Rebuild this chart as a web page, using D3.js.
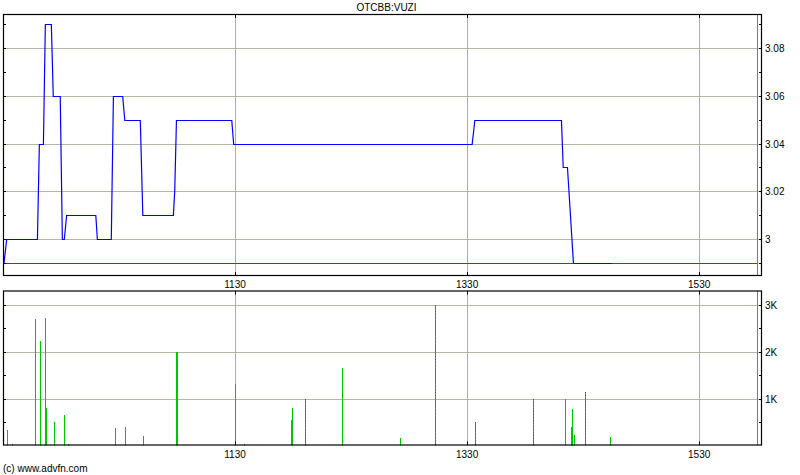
<!DOCTYPE html>
<html>
<head>
<meta charset="utf-8">
<script src="https://cdn.jsdelivr.net/npm/d3@7"></script>
<style>
  html, body { margin: 0; padding: 0; background: #fff; }
  svg { display: block; }
  text { font-family: "Liberation Sans", Arial, sans-serif; font-size: 10px; fill: #000; }
</style>
</head>
<body>
<svg id="chart" width="800" height="475"></svg>
<script>
// ---- data (minutes after 09:30) ----
const title = "OTCBB:VUZI";
const credit = "(c) www.advfn.com";
const priceTimes  = [0.5, 1.9, 17.8, 18.8, 20.9, 21.9, 25, 26, 29.6, 30.7, 31.7, 32.9, 48, 48.8, 56, 57.1, 61.9, 63, 71, 72.3, 88.1, 88.8, 89.7, 118.3, 119.3, 242.6, 244, 288.8, 289.7, 291.9, 295, 314.9];
const priceValues = [2.99, 3.00, 3.00, 3.04, 3.04, 3.09, 3.09, 3.06, 3.06, 3.00, 3.00, 3.01, 3.01, 3.00, 3.00, 3.06, 3.06, 3.05, 3.05, 3.01, 3.01, 3.02, 3.05, 3.05, 3.04, 3.04, 3.05, 3.05, 3.03, 3.03, 2.99, 2.99];
const prevClose = 2.99;
const closeMinute = 390; // 16:00
const volumeTimes  = [2.2, 4.5, 16.4, 19.3, 21.6, 22.4, 26.5, 31.4, 33.5, 57.8, 63.3, 72.6, 89.6, 90.1, 119.9, 124.5, 148.8, 149.7, 156.4, 175.5, 205.5, 223.6, 244.3, 274.3, 290.4, 293.5, 294.5, 295.5, 301.2, 313.7];
const volumeValues = [330, 40, 2690, 2220, 2710, 790, 500, 660, 40, 370, 400, 200, 2000, 2000, 1300, 40, 540, 790, 1000, 1660, 150, 3000, 500, 1000, 1000, 390, 770, 220, 1130, 180];
const volumeDark   = [0, 0, 0, 0, 0, 0, 0, 0, 0, 0, 0, 0, 0, 0, 0, 0, 0, 0, 1, 0, 0, 1, 1, 1, 0, 0, 0, 0, 1, 0];
const xTickMinutes = [120, 240, 360];
const xTickLabels  = ["1130", "1330", "1530"];
const priceTicks = [3.00, 3.02, 3.04, 3.06, 3.08];
const priceTickLabels = ["3", "3.02", "3.04", "3.06", "3.08"];
const priceMinorTicks = [2.99, 3.01, 3.03, 3.05, 3.07, 3.09];
const volumeTicks = [1000, 2000, 3000];
const volumeTickLabels = ["1K", "2K", "3K"];
const volumeMinorTicks = [500, 1500, 2500];

// ---- layout ----
const svg = d3.select("#chart");
const L = 3, R = 762;
const pTop = 14, pBot = 276;
const vTop = 290.5, vBot = 445.5;

const x = d3.scaleLinear().domain([0, 392.5]).range([L, R]);
const yP = d3.scaleLinear().domain([2.98449, 3.0943]).range([pBot, pTop]);
const yV = d3.scaleLinear().domain([0, 3300]).range([vBot, vTop]);

const gridColor = "#b6b8a6";

function panel(top, bot, y, majors) {
  const g = svg.append("g");
  g.selectAll(".hg").data(majors).join("line")
    .attr("x1", L).attr("x2", R)
    .attr("y1", d => Math.round(y(d)) + 0.5).attr("y2", d => Math.round(y(d)) + 0.5)
    .attr("stroke", gridColor).attr("stroke-width", 1);
  g.selectAll(".vg").data(xTickMinutes).join("line")
    .attr("x1", d => Math.round(x(d)) + 0.5).attr("x2", d => Math.round(x(d)) + 0.5)
    .attr("y1", top).attr("y2", bot)
    .attr("stroke", "#a9acac").attr("stroke-width", 1);
  g.append("line")
    .attr("x1", Math.round(x(closeMinute)) + 0.5).attr("x2", Math.round(x(closeMinute)) + 0.5)
    .attr("y1", top).attr("y2", bot)
    .attr("stroke", "#7a7a7a").attr("stroke-width", 1);
  return g;
}

function frame(top, bot, y, majors, labels, minors) {
  const g = svg.append("g");
  g.append("rect").attr("x", L + 0.5).attr("y", top + 0.5)
    .attr("width", R - L - 1).attr("height", bot - top - 1)
    .attr("fill", "none").attr("stroke", "#000").attr("stroke-width", 1.2);
  const all = majors.concat(minors);
  g.selectAll(".tl").data(all).join("line")
    .attr("x1", L).attr("x2", L + 3)
    .attr("y1", d => Math.round(y(d)) + 0.5).attr("y2", d => Math.round(y(d)) + 0.5)
    .attr("stroke", "#000");
  g.selectAll(".tr").data(all).join("line")
    .attr("x1", R - 3).attr("x2", R)
    .attr("y1", d => Math.round(y(d)) + 0.5).attr("y2", d => Math.round(y(d)) + 0.5)
    .attr("stroke", "#000");
  g.selectAll(".xb").data(xTickMinutes).join("line")
    .attr("x1", d => Math.round(x(d)) + 0.5).attr("x2", d => Math.round(x(d)) + 0.5)
    .attr("y1", bot - 4).attr("y2", bot)
    .attr("stroke", "#000");
  g.selectAll(".xt").data(xTickMinutes).join("line")
    .attr("x1", d => Math.round(x(d)) + 0.5).attr("x2", d => Math.round(x(d)) + 0.5)
    .attr("y1", top).attr("y2", top + 4)
    .attr("stroke", "#000");
  g.selectAll(".yl").data(majors).join("text")
    .attr("x", R + 3).attr("y", d => y(d) + 4)
    .text((d, i) => labels[i]);
  return g;
}

// Price panel
panel(pTop, pBot, yP, priceTicks);
svg.append("line")
  .attr("x1", x(0)).attr("x2", x(closeMinute))
  .attr("y1", Math.round(yP(prevClose)) + 0.5).attr("y2", Math.round(yP(prevClose)) + 0.5)
  .attr("stroke", "#ee0000").attr("stroke-width", 1);
const pts = priceTimes.map((t, i) => [t, priceValues[i]]);
svg.append("path")
  .datum(pts)
  .attr("d", d3.line().x(d => x(d[0])).y(d => Math.round(yP(d[1])) + 0.5))
  .attr("fill", "none").attr("stroke", "#0000ff").attr("stroke-width", 1.2);
frame(pTop, pBot, yP, priceTicks, priceTickLabels, priceMinorTicks);

// Volume panel
panel(vTop, vBot, yV, volumeTicks);
const vols = volumeTimes.map((t, i) => ({ t, v: volumeValues[i], dark: volumeDark[i] }));
svg.append("g").selectAll("rect").data(vols).join("rect")
  .attr("x", d => Math.round(x(d.t)))
  .attr("width", 1)
  .attr("y", d => Math.round(yV(d.v)))
  .attr("height", d => vBot - Math.round(yV(d.v)))
  .attr("fill", "#00c800");
svg.append("g").selectAll("line").data(vols.filter(d => d.dark)).join("line")
  .attr("x1", d => Math.round(x(d.t)) + 0.5).attr("x2", d => Math.round(x(d.t)) + 0.5)
  .attr("y1", d => Math.round(yV(d.v))).attr("y2", vBot)
  .attr("stroke", "#3c6a3c").attr("stroke-width", 1)
  .attr("stroke-dasharray", "1,2");
frame(vTop, vBot, yV, volumeTicks, volumeTickLabels, volumeMinorTicks);

// x labels between panels and below volume
svg.append("g").selectAll("text").data(xTickMinutes).join("text")
  .attr("x", d => x(d)).attr("y", 288).attr("text-anchor", "middle")
  .text((d, i) => xTickLabels[i]);
svg.append("g").selectAll("text").data(xTickMinutes).join("text")
  .attr("x", d => x(d)).attr("y", 458).attr("text-anchor", "middle")
  .text((d, i) => xTickLabels[i]);

// title & credit
svg.append("text").attr("x", (L + R) / 2 + 4).attr("y", 11).attr("text-anchor", "middle").text(title);
svg.append("text").attr("x", 3).attr("y", 472).text(credit);
</script>
</body>
</html>
